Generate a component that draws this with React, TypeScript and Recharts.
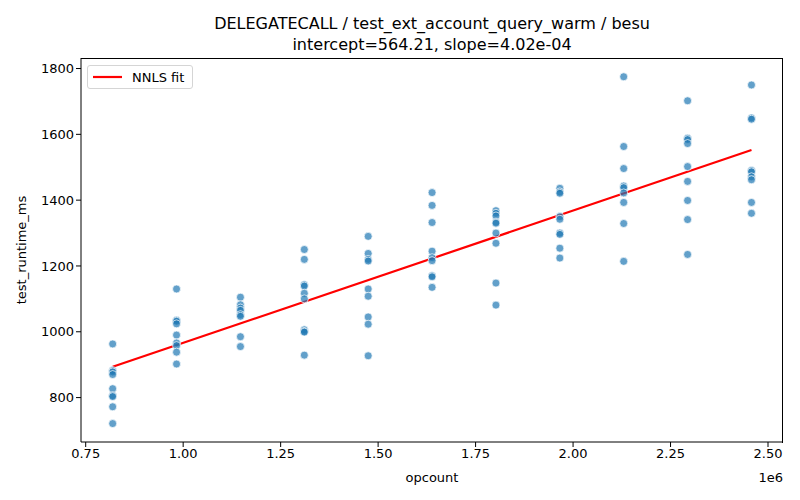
import { ComposedChart, Scatter, Line, XAxis, YAxis } from 'recharts';

// opcount columns (x) and runtime readings (y), one list per column
const opcounts = [819200, 983040, 1146880, 1310720, 1474560, 1638400, 1802240, 1966080, 2129920, 2293760, 2457600];

const runtimes: number[][] = [
  [963, 882, 878, 870, 827, 806, 803, 772, 721],
  [1130, 1035, 1032, 1024, 990, 966, 958, 938, 902],
  [1105, 1082, 1072, 1065, 1052, 1047, 985, 955],
  [1250, 1220, 1143, 1139, 1117, 1100, 1006, 1001, 999, 929],
  [1290, 1238, 1220, 1215, 1130, 1108, 1045, 1023, 927],
  [1423, 1384, 1332, 1245, 1225, 1216, 1170, 1167, 1135],
  [1368, 1360, 1352, 1333, 1330, 1300, 1269, 1148, 1081],
  [1436, 1425, 1421, 1350, 1342, 1300, 1296, 1254, 1224],
  [1775, 1563, 1496, 1443, 1438, 1422, 1393, 1329, 1214],
  [1702, 1588, 1584, 1572, 1502, 1457, 1399, 1341, 1235],
  [1750, 1650, 1646, 1490, 1486, 1471, 1462, 1393, 1360],
];

const fitX = [819200, 2457600];
const fitY = [893.5, 1552.2];

const xTicks = [750000, 1000000, 1250000, 1500000, 1750000, 2000000, 2250000, 2500000];
const yTicks = [800, 1000, 1200, 1400, 1600, 1800];

const points = opcounts.flatMap((x, i) => runtimes[i].map((y) => ({ x, y })));
const fitLine = fitX.map((x, i) => ({ x, y: fitY[i] }));

const xDomain = [737950, 2538450];
const yDomain = [665, 1832];

const font = 'DejaVu Sans, sans-serif';

const Dot = (props: any) => {
  const { cx, cy } = props;
  return <circle cx={cx} cy={cy} r={4} fill="#1f77b4" fillOpacity={0.7} stroke="#ffffff" strokeWidth={0.7} />;
};

export default function App() {
  return (
    <div style={{ position: 'absolute', left: 0, top: 0, width: 800, height: 500, background: '#fff' }}>
      <ComposedChart width={800} height={500} margin={{ top: 58, right: 17, bottom: 18, left: 21 }}>
        <text x={432} y={29} textAnchor="middle" fontFamily={font} fontSize={16} fill="#000">
          DELEGATECALL / test_ext_account_query_warm / besu
        </text>
        <text x={432} y={50} textAnchor="middle" fontFamily={font} fontSize={16} fill="#000">
          intercept=564.21, slope=4.02e-04
        </text>
        <XAxis
          type="number"
          dataKey="x"
          domain={xDomain}
          ticks={xTicks}
          allowDataOverflow
          height={40}
          tickSize={5}
          tick={{ fill: '#000', fontSize: 13, fontFamily: font }}
          tickFormatter={(v: number) => (v / 1e6).toFixed(2)}
          axisLine={{ stroke: '#000' }}
          tickLine={{ stroke: '#000' }}
        />
        <YAxis
          type="number"
          dataKey="y"
          domain={yDomain}
          ticks={yTicks}
          allowDataOverflow
          width={60}
          tickSize={5}
          tick={{ fill: '#000', fontSize: 13, fontFamily: font }}
          axisLine={{ stroke: '#000' }}
          tickLine={{ stroke: '#000' }}
        />
        <Scatter data={points} dataKey="y" shape={<Dot />} isAnimationActive={false} legendType="none" />
        <Line
          data={fitLine}
          dataKey="y"
          stroke="#ff0000"
          strokeWidth={2.2}
          dot={false}
          type="linear"
          isAnimationActive={false}
        />
        <text x={432} y={482} textAnchor="middle" fontFamily={font} fontSize={13} fill="#000">
          opcount
        </text>
        <text x={783} y={482} textAnchor="end" fontFamily={font} fontSize={13} fill="#000">
          1e6
        </text>
        <text
          x={26}
          y={250}
          textAnchor="middle"
          fontFamily={font}
          fontSize={13}
          fill="#000"
          transform="rotate(-90 26 250)"
        >
          test_runtime_ms
        </text>
      </ComposedChart>
      {/* top and right spines of the axes frame */}
      <div
        style={{
          position: 'absolute',
          left: 81,
          top: 58,
          width: 701,
          height: 384,
          borderTop: '1px solid #000',
          borderRight: '1px solid #000',
          pointerEvents: 'none',
        }}
      />
      <div
        style={{
          position: 'absolute',
          left: 87,
          top: 65,
          height: 24,
          boxSizing: 'border-box',
          border: '1px solid #d5d5d5',
          borderRadius: 3,
          background: 'rgba(255,255,255,0.8)',
          padding: '0 8px 0 5px',
          display: 'flex',
          alignItems: 'center',
          fontFamily: font,
          fontSize: 13,
          color: '#000',
        }}
      >
        <svg width={30} height={6} style={{ marginRight: 9 }}>
          <line x1={0} y1={3} x2={29} y2={3} stroke="#ff0000" strokeWidth={2.2} />
        </svg>
        NNLS fit
      </div>
    </div>
  );
}
